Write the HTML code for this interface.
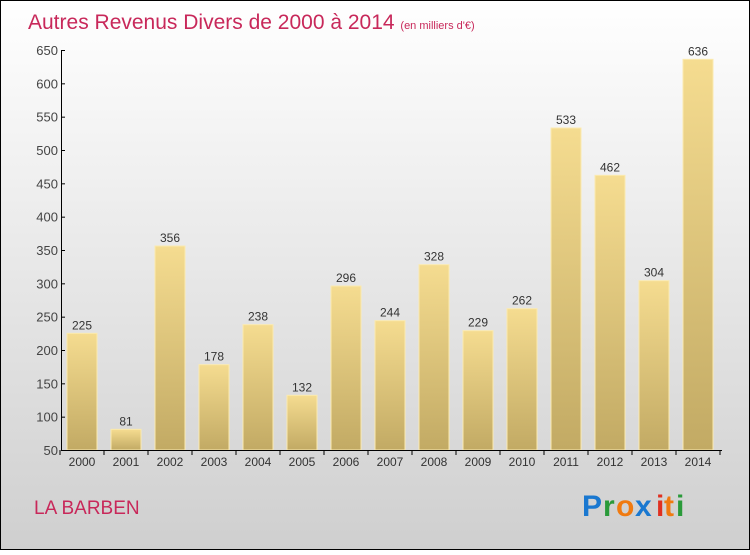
<!DOCTYPE html>
<html><head><meta charset="utf-8"><style>
html,body{margin:0;padding:0}
body{width:750px;height:550px;overflow:hidden;font-family:"Liberation Sans",sans-serif}
</style></head><body>
<svg width="750" height="550" xmlns="http://www.w3.org/2000/svg">
<defs>
<linearGradient id="bg" x1="0" y1="0" x2="0" y2="1"><stop offset="0" stop-color="#ffffff"/><stop offset="1" stop-color="#cfcfcf"/></linearGradient>
<linearGradient id="bar" x1="0" y1="0" x2="0" y2="1"><stop offset="0" stop-color="#f5dc90"/><stop offset="1" stop-color="#c2aa64"/></linearGradient>
</defs>
<rect x="0.5" y="0.5" width="749" height="549" fill="url(#bg)" stroke="#000"/>
<text x="28" y="29" font-size="21" fill="#c8285a">Autres Revenus Divers de 2000 à 2014 <tspan font-size="11">(en milliers d'€)</tspan></text>
<g id="yaxis"></g>
<g id="bars"></g>
<g id="xaxis"></g>
<text x="34" y="514" font-size="19" fill="#c8285a">LA BARBEN</text>
<g font-family="Liberation Sans,sans-serif" font-size="30" font-weight="bold">
<text x="582" y="516" fill="#1a78d0">P</text><text x="603" y="516" fill="#2a9a3a">r</text><text x="616" y="516" fill="#f07a10">o</text><text x="635" y="516" fill="#1a78d0">x</text><text x="656" y="516" fill="#e03020">i</text><text x="664" y="516" fill="#f07a10">t</text><text x="676" y="516" fill="#2a9a3a">i</text>
</g>
</svg>
<script>
const years=["2000","2001","2002","2003","2004","2005","2006","2007","2008","2009","2010","2011","2012","2013","2014"];
const values=[225,81,356,178,238,132,296,244,328,229,262,533,462,304,636];
const yTicks=[50,100,150,200,250,300,350,400,450,500,550,600,650];
const NS="http://www.w3.org/2000/svg";
const y=v=>450-(v-50)*400/600;
const x=i=>82+i*44;
function mk(t,a,p){const e=document.createElementNS(NS,t);for(const k in a)e.setAttribute(k,a[k]);p.appendChild(e);return e;}
const ya=document.getElementById('yaxis'),xa=document.getElementById('xaxis'),bg=document.getElementById('bars');
mk('line',{x1:61.5,y1:50,x2:61.5,y2:450,stroke:'#000'},ya);
yTicks.forEach(t=>{
 const l=mk('line',{x1:61,y1:y(t)+.5,x2:65,y2:y(t)+.5,stroke:'#000'},ya);
 
 
 const tx=mk('text',{x:58,y:y(t)+5,'font-size':13,fill:'#444','text-anchor':'end'},ya);tx.textContent=t;
 
 
});
mk('line',{x1:61,y1:450.5,x2:722,y2:450.5,stroke:'#000'},xa);
years.forEach((yr,i)=>{
 const r=mk('rect',{x:x(i)-15,y:y(values[i]),width:30,height:450-y(values[i]),fill:'url(#bar)',stroke:'#fbeab0','stroke-width':1},bg);
 
 
 const v=mk('text',{x:x(i),y:y(values[i])-4,'font-size':12,fill:'#333','text-anchor':'middle'},bg);v.textContent=values[i];
 
 
 mk('line',{x1:x(i)+22,y1:450,x2:x(i)+22,y2:455,stroke:'#000'},xa);
 const t=mk('text',{x:x(i),y:466,'font-size':12,fill:'#333','text-anchor':'middle'},xa);t.textContent=yr;
 
 
});
mk('line',{x1:60,y1:450,x2:60,y2:455,stroke:'#000'},xa);
</script>
</body></html>
